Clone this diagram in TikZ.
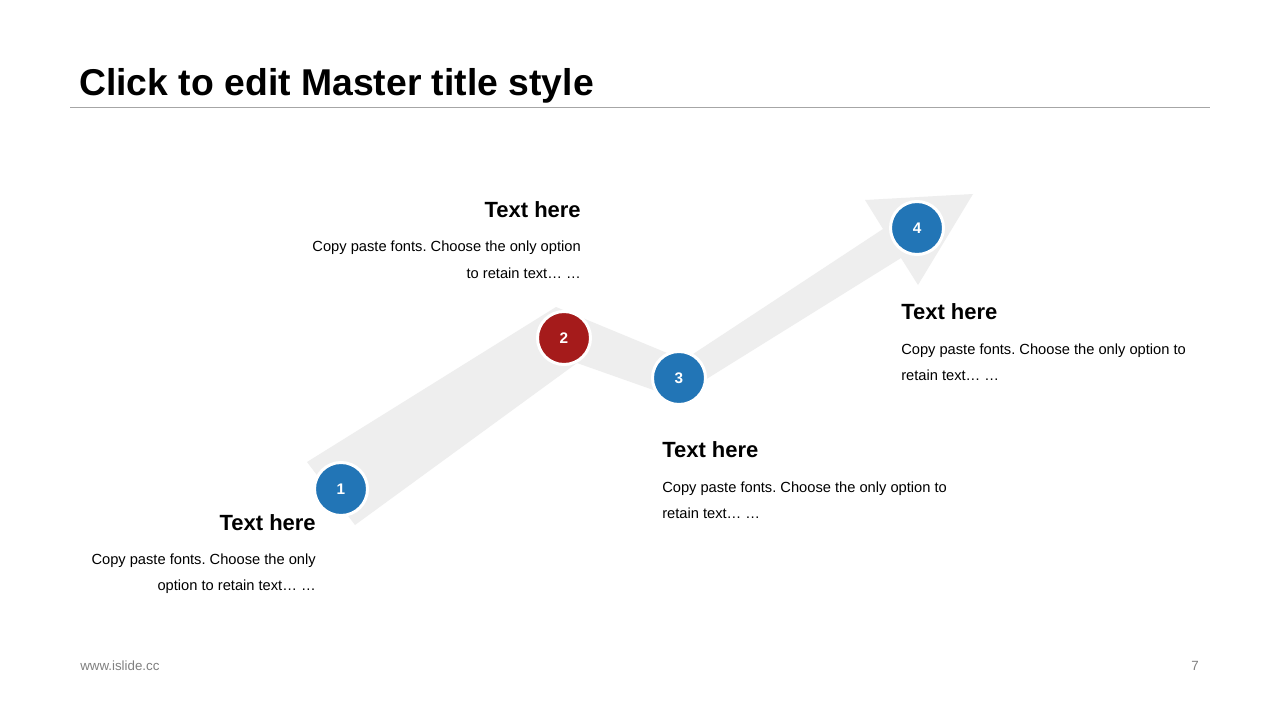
\documentclass[tikz,border=0pt]{standalone}
\usepackage{fontspec}
\setmainfont{Liberation Sans}
\definecolor{band}{RGB}{238,238,238}
\definecolor{nblue}{RGB}{34,117,182}
\definecolor{nred}{RGB}{165,27,27}
\definecolor{rulec}{RGB}{166,166,166}
\definecolor{footc}{RGB}{128,128,128}
\begin{document}
\frenchspacing
\begin{tikzpicture}[x=0.75pt,y=-0.75pt,
  num/.style={circle, minimum size=39.75pt, inner sep=0pt, draw=white, line width=2.25pt, text=white, font=\bfseries\fontsize{11.5}{13}\selectfont},
  head/.style={inner sep=0pt, font=\bfseries\fontsize{16.5}{19}\selectfont},
  body/.style={inner sep=0pt, font=\fontsize{11}{13}\selectfont},
  foot/.style={inner sep=0pt, text=footc, font=\fontsize{10}{12}\selectfont},
]
\useasboundingbox[fill=white] (0,0) rectangle (1280,720);
% title
\node[inner sep=0pt, anchor=base west, font=\bfseries\fontsize{28}{32}\selectfont] (title) at (79,96) {Click to edit Master title style};
\draw[rulec, line width=0.75pt] (70,108) -- (1210,108);
% band arrow
\fill[band] (307,462) -- (556,307) -- (684,360) -- (883,229) -- (865,200) -- (973,194)
  -- (918,285) -- (901,258) -- (676,398) -- (577,363) -- (355,525) -- cycle;
% circles
\node[num, fill=nblue] (n1) at (341,489) {1};
\node[num, fill=nred]  (n2) at (564,338) {2};
\node[num, fill=nblue] (n3) at (679,378) {3};
\node[num, fill=nblue] (n4) at (917,228) {4};
% block 1
\node[head, anchor=base east] (h1) at (316,530) {Text here};
\node[body, anchor=base east] (b1a) at (316,564) {Copy paste fonts. Choose the only};
\node[body, anchor=base east] (b1b) at (316,590) {option to retain text… …};
% block 2
\node[head, anchor=base east] (h2) at (581,218) {Text here};
\node[body, anchor=base east] (b2a) at (581,252) {Copy paste fonts. Choose the only option};
\node[body, anchor=base east] (b2b) at (581,278) {to retain text… …};
% block 3
\node[head, anchor=base west] (h3) at (662,457) {Text here};
\node[body, anchor=base west] (b3a) at (662,492) {Copy paste fonts. Choose the only option to};
\node[body, anchor=base west] (b3b) at (662,518) {retain text… …};
% block 4
\node[head, anchor=base west] (h4) at (901,319) {Text here};
\node[body, anchor=base west] (b4a) at (901,354) {Copy paste fonts. Choose the only option to};
\node[body, anchor=base west] (b4b) at (901,380) {retain text… …};
% footer
\node[foot, anchor=base west] (url) at (80,670) {www.islide.cc};
\node[foot, anchor=base east] (pg) at (1199,670) {7};
\end{tikzpicture}
\end{document}
